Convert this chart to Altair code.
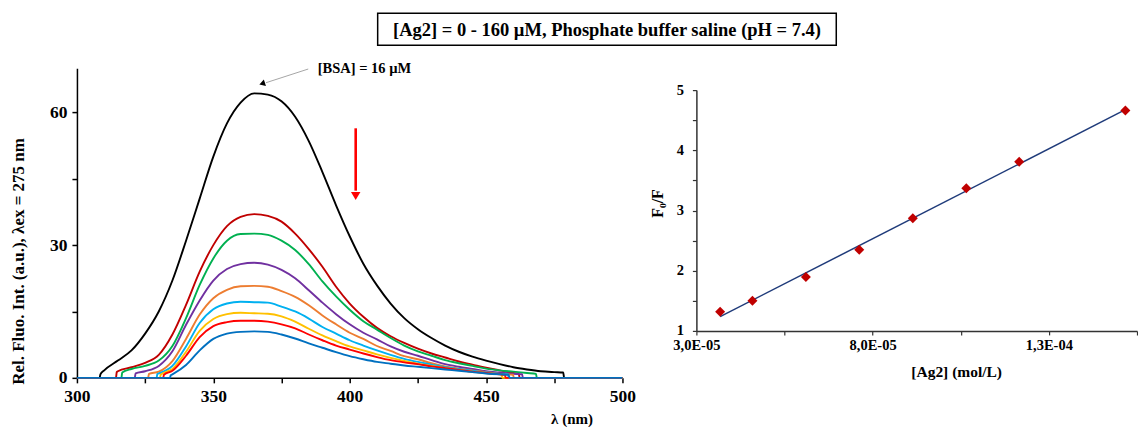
import altair as alt
import pandas as pd

FONT = "Liberation Serif"
TITLE = "[Ag2] = 0 - 160 µM, Phosphate buffer saline (pH = 7.4)"

# ---------------- left panel: emission spectra ----------------
WL = list(range(305, 481, 5))  # 305 .. 480 nm grid
N = None
SERIES = ["c0", "c1", "c2", "c3", "c4", "c5", "c6", "c7", "c8"]
COLORS = ["#000000", "#c00000", "#00b050", "#7030a0", "#ed7d31",
          "#00b0f0", "#ffc000", "#ff0000", "#0070c0"]
START_NM = [308.3, 314.3, 316.3, 321.2, 326.1, 329.2, 330.4, 331.6, 334.1]
JUMP = [0.8, 1.3, 1.2, 1.0, 0.9, 0.9, 0.7, 0.7, 0.6]
END_NM = [478.6, 462.3, 468.6, 463.5, 460.2, 458.3, 456.0, 457.2, 458.6]
TAIL = [1.2, 0.9, 0.9, 0.8, 0.7, 0.8, 0.7, 0.7, 0.7]

I_BLACK = [N, 1.7, 3.9, 6.2, 10.0, 15.0, 22.0, 31.0, 40.5, 50.0, 57.5, 62.2, 64.3, 64.0,
           62.5, 59.0, 53.5, 46.5, 39.0, 32.0, 25.8, 20.9, 16.8, 13.5, 11.0, 9.0, 7.3,
           5.9, 4.8, 3.9, 3.1, 2.4, 1.9, 1.5, 1.3, N]
I_DARKRED = [N, N, 1.5, 2.4, 3.4, 5.2, 9.8, 16.5, 24.0, 30.0, 34.3, 36.4, 37.0, 36.6,
             35.3, 32.6, 29.1, 25.1, 20.6, 16.8, 13.8, 11.3, 9.4, 7.9, 6.6, 5.5, 4.6,
             3.7, 3.0, 2.3, 1.7, 1.1, N, N, N, N]
I_GREEN = [N, N, N, 2.0, 2.7, 3.9, 7.2, 13.5, 21.0, 27.0, 31.0, 32.5, 32.6, 32.3,
           31.0, 28.9, 25.7, 21.8, 18.4, 15.4, 12.8, 10.9, 9.0, 7.3, 6.0, 5.0, 4.0,
           3.3, 2.7, 2.1, 1.7, 1.4, 1.1, N, N, N]
I_PURPLE = [N, N, N, N, 1.5, 2.7, 6.0, 12.0, 17.5, 22.0, 24.6, 25.7, 26.0, 25.6,
            24.4, 22.5, 19.8, 17.0, 14.4, 12.1, 10.2, 8.7, 7.1, 5.9, 5.0, 4.0, 3.1,
            2.5, 2.0, 1.5, 1.2, 0.9, N, N, N, N]
I_ORANGE = [N, N, N, N, N, 1.4, 3.8, 8.8, 14.3, 18.0, 19.9, 20.7, 20.8, 20.6,
            19.6, 18.3, 16.4, 14.1, 12.1, 10.2, 8.8, 7.2, 6.1, 4.9, 4.2, 3.3, 2.6,
            2.1, 1.7, 1.3, 0.9, N, N, N, N, N]
I_LIGHTBLUE = [N, N, N, N, N, 1.0, 2.7, 7.1, 12.4, 15.5, 16.8, 17.2, 17.1, 17.0,
               16.1, 15.0, 13.4, 11.5, 10.0, 8.5, 7.3, 6.2, 5.2, 4.3, 3.6, 3.0, 2.4,
               2.0, 1.6, 1.2, 0.9, N, N, N, N, N]
I_YELLOW = [N, N, N, N, N, N, 2.0, 5.9, 10.6, 13.3, 14.4, 14.7, 14.6, 14.5,
            13.9, 12.7, 11.1, 9.6, 8.3, 7.1, 6.2, 5.3, 4.5, 3.8, 3.2, 2.7, 2.2,
            1.8, 1.4, 1.1, 0.8, N, N, N, N, N]
I_RED = [N, N, N, N, N, N, 1.6, 5.0, 9.2, 11.7, 12.6, 12.9, 12.9, 12.7,
         12.1, 11.2, 9.8, 8.5, 7.3, 6.4, 5.5, 4.7, 4.0, 3.5, 3.1, 2.6, 2.2,
         1.8, 1.4, 1.1, 0.8, N, N, N, N, N]
I_BLUE = [N, N, N, N, N, N, 0.8, 2.9, 6.2, 8.8, 10.0, 10.4, 10.5, 10.4,
          9.8, 8.9, 7.8, 6.8, 5.8, 4.9, 4.2, 3.6, 3.2, 2.8, 2.5, 2.2, 1.9,
          1.6, 1.3, 1.0, 0.8, N, N, N, N, N]
INTENSITIES = [I_BLACK, I_DARKRED, I_GREEN, I_PURPLE, I_ORANGE,
               I_LIGHTBLUE, I_YELLOW, I_RED, I_BLUE]

X1_TICKS = list(range(300, 501, 25))
Y1_TICKS = [0, 15, 30, 45, 60]

# annotations (data coordinates)
BSA_LABEL = "[BSA] = 16 µM"
BSA_TEXT_AT = (388.3, 69.8)
BSA_ARROW = (384.8, 69.8, 369.3, 66.7)
BSA_HEAD = (367.9, 66.5)
RED_ARROW = (402.2, 56.4, 402.2, 42.3)
RED_HEAD = (402.2, 41.1)

# ---------------- right panel: Stern-Volmer ----------------
AG2_CONC = [3.674e-5, 4.59e-5, 6.107e-5, 7.62e-5, 9.14e-5, 1.0657e-4, 1.2157e-4, 1.517e-4]
F0_F = [1.32, 1.50, 1.895, 2.35, 2.87, 3.37, 3.81, 4.66]
X2_TICKS = [3.0e-5, 5.5e-5, 8.0e-5, 1.05e-4, 1.3e-4, 1.55e-4]
X2_LABELS = ["3,0E-05", "", "8,0E-05", "", "1,3E-04", ""]
Y2_TICKS = [1, 1.5, 2, 2.5, 3, 3.5, 4, 4.5, 5]

# ---------------- build tables ----------------
rows = []
for name, s, j, e, t, vals in zip(SERIES, START_NM, JUMP, END_NM, TAIL, INTENSITIES):
    pts = [(300.0, 0.0), (s, 0.0), (s + 0.3, j)]
    pts += [(w, v) for w, v in zip(WL, vals) if v is not None and s + 0.3 < w < e - 0.3]
    pts += [(e - 0.3, t), (e, 0.0), (500.0, 0.0)]
    for w, v in pts:
        rows.append({"series": name, "nm": w, "val": v})
spec_df = pd.DataFrame(rows)

x1 = alt.X("nm:Q", scale=alt.Scale(domain=[300, 500], nice=False, zero=False),
           axis=alt.Axis(values=X1_TICKS, labelExpr="datum.value % 50 === 0 ? datum.label : ''",
                         title="λ (nm)", titleFontSize=15, titleX=495, titleY=41,
                         titleBaseline="middle", titleAlign="center",
                         labelFontSize=17.5, labelPadding=5, tickSize=5, tickWidth=1.5,
                         domainWidth=1.5, labelFlush=False, labelOverlap=False))
y1 = alt.Y("val:Q", scale=alt.Scale(domain=[0, 70], nice=False),
           axis=alt.Axis(values=Y1_TICKS, labelExpr="datum.value % 30 === 0 ? datum.label : ''",
                         title="Rel. Fluo. Int. (a.u.), λex = 275 nm", titleFontSize=17,
                         titleX=-58, titleY=193, titleBaseline="middle", titleAlign="center",
                         titleAngle=270,
                         labelFontSize=17.5, labelPadding=5, tickSize=5, tickWidth=1.5,
                         domainWidth=1.5, labelFlush=False, labelOverlap=False))

spectra = alt.Chart(spec_df).mark_line(strokeWidth=1.9, interpolate="monotone").encode(
    x=x1, y=y1,
    color=alt.Color("series:N", scale=alt.Scale(domain=SERIES, range=COLORS), legend=None),
)

ann_txt = alt.Chart(pd.DataFrame({"nm": [BSA_TEXT_AT[0]], "val": [BSA_TEXT_AT[1]], "t": [BSA_LABEL]})).mark_text(
    font=FONT, fontSize=14.5, fontWeight="bold", align="left", baseline="middle", color="black"
).encode(x="nm:Q", y="val:Q", text="t:N")

arrow_df = pd.DataFrame({"nm": [BSA_ARROW[0]], "val": [BSA_ARROW[1]],
                         "nm2": [BSA_ARROW[2]], "val2": [BSA_ARROW[3]]})
ann_line = alt.Chart(arrow_df).mark_rule(color="#a6a6a6", strokeWidth=1).encode(
    x="nm:Q", y="val:Q", x2="nm2:Q", y2="val2:Q")
ann_head = alt.Chart(pd.DataFrame({"nm": [BSA_HEAD[0]], "val": [BSA_HEAD[1]]})).mark_point(
    shape="triangle-left", angle=342, size=45, filled=True, color="black", opacity=1
).encode(x="nm:Q", y="val:Q")

red_df = pd.DataFrame({"nm": [RED_ARROW[0]], "val": [RED_ARROW[1]],
                       "nm2": [RED_ARROW[2]], "val2": [RED_ARROW[3]]})
red_line = alt.Chart(red_df).mark_rule(color="#ff0000", strokeWidth=2.6).encode(
    x="nm:Q", y="val:Q", x2="nm2:Q", y2="val2:Q")
red_head = alt.Chart(pd.DataFrame({"nm": [RED_HEAD[0]], "val": [RED_HEAD[1]]})).mark_point(
    shape="triangle-down", size=90, filled=True, color="#ff0000", opacity=1
).encode(x="nm:Q", y="val:Q")

# framed figure title (decoration placed above the left plot)
title_df = pd.DataFrame({"t": [TITLE]})
title_frame = alt.Chart(title_df).mark_rect(
    fillOpacity=0, stroke="black", strokeWidth=1.5
).encode(x=alt.value(301), x2=alt.value(760), y=alt.value(-55), y2=alt.value(-23))
title_text = alt.Chart(title_df).mark_text(
    font=FONT, fontSize=18.5, fontWeight="bold", color="black", align="center", baseline="middle"
).encode(x=alt.value(530.5), y=alt.value(-38.5), text="t:N")

left_chart = alt.layer(spectra, ann_line, ann_head, ann_txt, red_line, red_head,
                       title_frame, title_text).properties(width=546, height=310)

# right panel
sv_df = pd.DataFrame({"conc": AG2_CONC, "ratio": F0_F})
x2_expr = " : ".join(f"abs(datum.value - {v}) < 1e-9 ? '{lab}'" for v, lab in zip(X2_TICKS, X2_LABELS)) + " : ''"
x2 = alt.X("conc:Q", scale=alt.Scale(domain=[3e-5, 1.55e-4], nice=False, zero=False),
           axis=alt.Axis(values=X2_TICKS, labelExpr=x2_expr, title="[Ag2] (mol/L)",
                         titleFontSize=15.5, titleX=260, titleY=41, titleBaseline="middle",
                         titleAlign="center", labelFontSize=14.5, labelPadding=4, tickSize=4,
                         tickWidth=1.2, domainWidth=1.5, labelFlush=False, labelOverlap=False,
                         domainColor="#333333", tickColor="#333333"))
y2 = alt.Y("ratio:Q", scale=alt.Scale(domain=[1, 5], nice=False, zero=False, range=[263, 22]),
           axis=alt.Axis(values=Y2_TICKS,
                         labelExpr="datum.value % 1 === 0 ? format(datum.value, 'd') : ''",
                         title="F₀/F", titleFontSize=16, titleX=-39, titleY=135,
                         titleBaseline="middle", titleAlign="center", titleAngle=270,
                         labelFontSize=14.5, labelPadding=9, tickSize=4, tickWidth=1.2,
                         domainWidth=1.5, labelFlush=False, labelOverlap=False,
                         domainColor="#333333", tickColor="#333333"))

fit = alt.Chart(sv_df).transform_regression("conc", "ratio").mark_line(
    color="#1f3b7a", strokeWidth=1.5).encode(x=x2, y=y2)
dots = alt.Chart(sv_df).mark_point(shape="diamond", filled=True, size=100,
                                   color="#c00000", opacity=1).encode(x=x2, y=y2)
right_chart = alt.layer(fit, dots).properties(width=441, height=263)

chart = alt.hconcat(left_chart, right_chart, spacing=74, bounds="flush").properties(
    padding={"left": 2, "top": 4, "right": 0, "bottom": 0}, background="white"
).configure_view(stroke=None).configure_axis(
    labelFont=FONT, titleFont=FONT, labelFontWeight="bold", titleFontWeight="bold",
    labelColor="black", titleColor="black", domainColor="black", tickColor="black", grid=False
)

chart.save("out.html", embed_options={"renderer": "svg", "actions": False})
